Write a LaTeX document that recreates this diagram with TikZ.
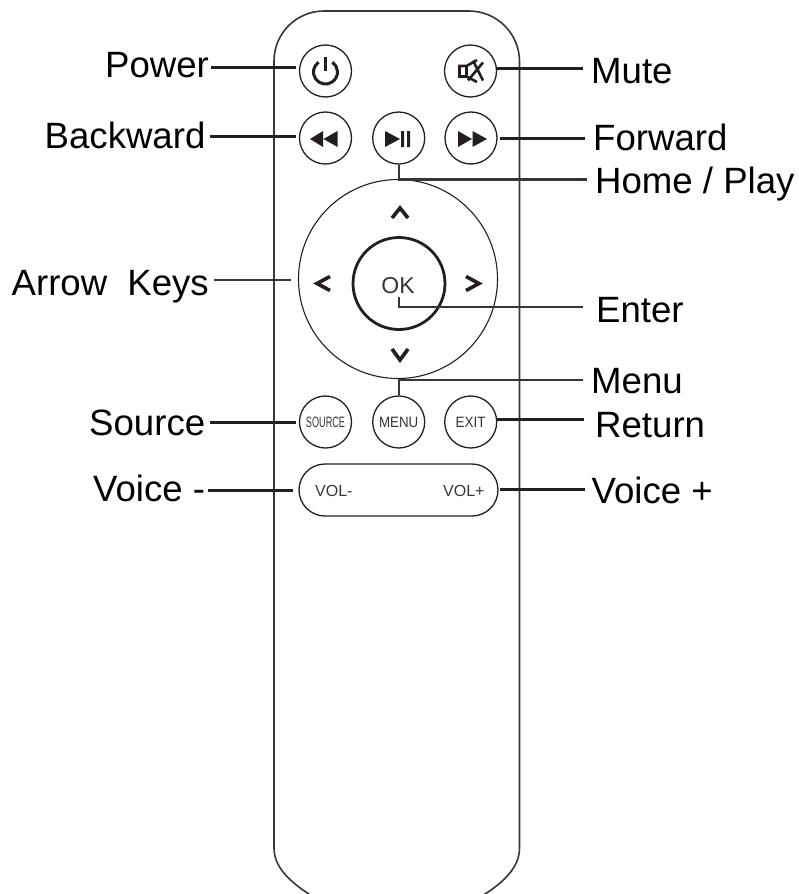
\documentclass[tikz,border=0pt]{standalone}
\usepackage{fontspec}
\usepackage{graphicx}
\setmainfont{Liberation Sans}
\definecolor{ink}{HTML}{231F20}
\tikzset{
  x=1pt,y=-1pt,
  btn/.style={circle,draw=ink,line width=1.3pt,minimum size=52pt,inner sep=0pt,font=\fontsize{15}{16}\selectfont,text=ink!90},
  lbl/.style={anchor=base west,inner sep=0pt,font=\fontsize{36.6}{38}\selectfont,text=black},
  conn/.style={draw=ink,line width=3pt},
  connthin/.style={draw=ink!90,line width=2.2pt},
  chev/.style={draw=ink,line width=3.6pt,line cap=butt,miter limit=10},
  glyph/.style={fill=ink,draw=none},
}
\begin{document}
\begin{tikzpicture}
\useasboundingbox (0,0) rectangle (799,894);
\begin{scope}
\clip (0,0) rectangle (799,894);
\fill[white] (0,0) rectangle (799,894);
% body
\draw[draw=ink!90,line width=1.6pt]
  (324,11) -- (469,11) arc[start angle=90,end angle=0,radius=50.5pt] -- (519.5,848)
  .. controls (519.5,866) and (506,881) .. (482,896) -- (312,896)
  .. controls (288,881) and (274,866) .. (274,848) -- (274,61)
  arc[start angle=180,end angle=90,radius=50pt] -- cycle;
% buttons
\node[btn] (power) at (325.5,71) {};
\node[btn] (mute) at (470.5,71) {};
\node[btn] (back) at (325.5,138) {};
\node[btn] (play) at (398.7,138) {};
\node[btn] (fwd) at (471,138) {};
\node[circle,draw=ink,line width=1.1pt,minimum size=199pt,inner sep=0pt] (pad) at (398,279) {};
\node[circle,draw=ink,line width=2.8pt,minimum size=92pt,inner sep=0pt] (ok) at (399,283.5) {};
\node[inner sep=0pt,anchor=base,font=\fontsize{23}{24}\selectfont,text=ink!90] (oktext) at (398,293) {OK};
\node[btn] (source) at (325.5,422) {\scalebox{.61}[1]{SOURCE}};
\node[btn] (menu) at (398.7,422) {\scalebox{.89}[1]{MENU}};
\node[btn] (exit) at (470.7,422) {\scalebox{.9}[1]{EXIT}};
\node[rectangle,rounded corners=26pt,draw=ink,line width=1.3pt,minimum width=199pt,minimum height=52pt,inner sep=0pt] (vol) at (398.5,490) {};
\node[anchor=base west,inner sep=0pt,font=\fontsize{16}{17}\selectfont,text=ink!90] (volm) at (315,496) {VOL-};
\node[anchor=base west,inner sep=0pt,font=\fontsize{16}{17}\selectfont,text=ink!90] (volp) at (443,496) {VOL+};
% icons
\draw[ink,line width=3pt] (318.6,62.2) arc[start angle=125,delta angle=290,radius=12pt];
\draw[ink,line width=3pt] (325.5,57) -- (325.5,71);
\fill[glyph] (323,131) -- (310,139) -- (323,147) -- cycle (337.5,131) -- (323.5,139) -- (337.5,147) -- cycle;
\fill[glyph] (385,131) -- (400,139) -- (385,147) -- cycle (401,131) rectangle (404,147) (407,131) rectangle (410,147);
\fill[glyph] (458,131) -- (472,139) -- (458,147) -- cycle (472.5,131) -- (487,139) -- (472.5,147) -- cycle;
\draw[ink,line width=2.6pt] (459.5,66) rectangle (466.5,76.5) (466.5,66) -- (477,60) (466.5,76.5) -- (477,82) (473,60.5) -- (483,80.5) (483,62.5) -- (468,80.5);
\draw[chev] (392,218) -- (400,208) -- (408,218);
\draw[chev] (330,276.5) -- (317,283.5) -- (330,290.5);
\draw[chev] (466,276.5) -- (479,283.5) -- (466,290.5);
\draw[chev] (392,349) -- (400,360) -- (408,349);
% labels
\node[lbl] (lpower) at (105,77) {Power};
\node[lbl] (lmute) at (591,83) {Mute};
\node[lbl] (lback) at (44.5,148) {Backward};
\node[lbl] (lfwd) at (593,150) {Forward};
\node[lbl] (lhome) at (595,193) {Home / Play};
\node[lbl] (larrow) at (11.5,295) {Arrow\hspace{10pt} Keys};
\node[lbl] (lenter) at (596,322) {Enter};
\node[lbl] (lmenu) at (591,393) {Menu};
\node[lbl] (lsource) at (89,435) {Source};
\node[lbl] (lreturn) at (595,437) {Return};
\node[lbl] (lvolm) at (93,501) {Voice -};
\node[lbl] (lvolp) at (591.5,503) {Voice +};
% connectors
\draw[conn] ([xshift=2pt]lpower.east |- 0,67.3) -- ([xshift=-3pt]power.west |- 0,67.3);
\draw[conn] (mute.east |- 0,68) -- ([xshift=-8pt]lmute.west |- 0,68);
\draw[conn] ([xshift=4pt]lback.east |- 0,136) -- ([xshift=-3pt]back.west |- 0,136);
\draw[conn] ([xshift=2pt]fwd.east |- 0,138) -- ([xshift=-8pt]lfwd.west |- 0,138);
\draw[connthin] (play.south) |- ([xshift=-8pt]lhome.west |- 0,179.5);
\draw[connthin] ([xshift=5pt]larrow.east |- 0,280) -- ([xshift=-7pt]pad.west |- 0,280);
\draw[connthin] (ok.center |- 0,297) |- ([xshift=-13pt]lenter.west |- 0,307);
\draw[connthin] (menu.north) |- ([xshift=-8pt]lmenu.west |- 0,380);
\draw[conn] ([xshift=5pt]lsource.east |- 0,422) -- ([xshift=-3pt]source.west |- 0,422);
\draw[conn] (exit.east |- 0,419) -- ([xshift=-11pt]lreturn.west |- 0,419);
\draw[conn] ([xshift=3pt]lvolm.east |- 0,490) -- ([xshift=-5pt]vol.west |- 0,490);
\draw[conn] ([xshift=1pt]vol.east |- 0,489) -- ([xshift=-6.5pt]lvolp.west |- 0,489);
\end{scope}
\end{tikzpicture}
\end{document}
